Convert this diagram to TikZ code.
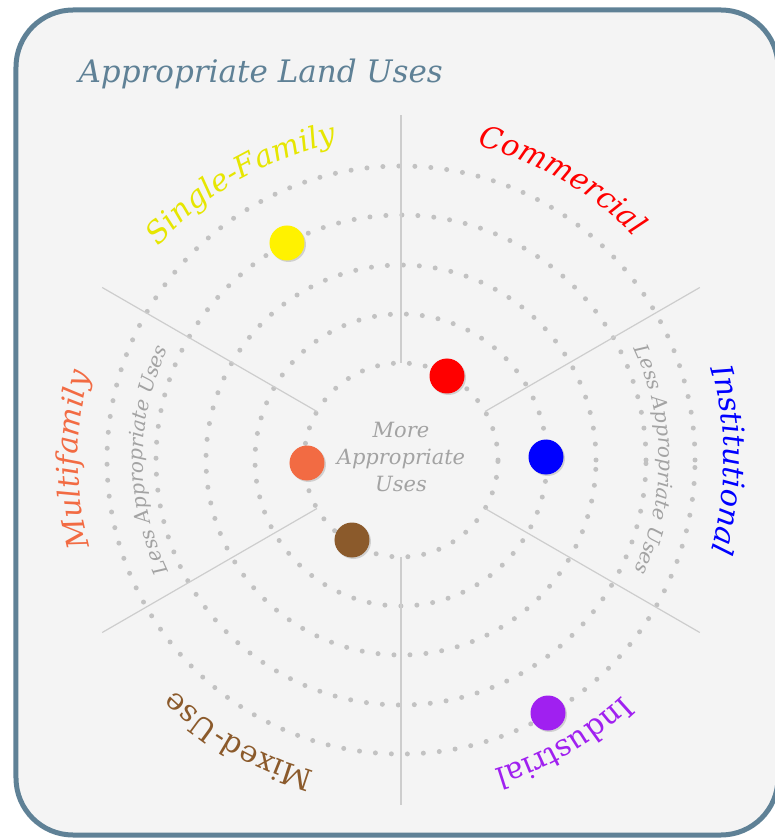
\documentclass[tikz,border=0pt]{standalone}
\usepackage{fontspec}
\setmainfont{DejaVu Serif}
\usetikzlibrary{decorations.text,shadows}

\definecolor{framec}{HTML}{5F8196}
\definecolor{paper}{HTML}{F4F4F4}
\definecolor{dotc}{HTML}{C2C2C2}
\definecolor{rayc}{HTML}{CDCDCD}
\definecolor{softc}{HTML}{A3A3A3}
\definecolor{sfam}{HTML}{E6E600}
\definecolor{mfam}{HTML}{F26B43}
\definecolor{mixc}{HTML}{8B5A2B}
\definecolor{indc}{HTML}{A020F0}

% text set along a clockwise arc: angle, radius, format, text
\newcommand{\arclabel}[4]{%
  \path[decorate, decoration={text along path, text align=center, text={|#3|#4}}]
    (#1+45:#2) arc[start angle=#1+45, end angle=#1-45, radius=#2];
}

\begin{document}
\begin{tikzpicture}[x=1pt,y=1pt,
    ring/.style={dotc, line width=5pt, line cap=round, dash pattern=on 0pt off 16pt},
    ray/.style={rayc, line width=1.2pt},
    usedot/.style={circle, fill=#1, minimum size=35pt, inner sep=0pt,
      drop shadow={shadow xshift=1.5pt, shadow yshift=-1.5pt, opacity=0.3}}]
  \useasboundingbox (-401,-378) rectangle (373,460);
  \draw[framec, line width=5pt, fill=paper, rounded corners=57pt] (-385,-375) rectangle (377,450);

  \node[framec, anchor=base west, font=\itshape\fontsize{31}{36}\selectfont] (title) at (-326,377) {Appropriate Land Uses};

  % rings and sector lines
  \foreach \r in {97,146,195,245,294}
    \draw[ring] (0,0) circle[radius=\r];
  \foreach \a in {30,90,...,330}
    \draw[ray] (\a:97) -- (\a:345);

  \node[softc, font=\itshape\fontsize{21}{27}\selectfont, align=center] (core) at (0,3) {More\\Appropriate\\Uses};

  % land use labels
  \arclabel{60}{323}{\fontsize{30}{36}\selectfont\itshape\color{red}}{Commercial}
  \arclabel{0}{323}{\fontsize{30}{36}\selectfont\itshape\color{blue}}{Institutional}
  \arclabel{-60}{323}{\fontsize{30}{36}\selectfont\color{indc}}{Industrial}
  \arclabel{-120}{323}{\fontsize{30}{36}\selectfont\color{mixc}}{Mixed-Use}
  \arclabel{180}{323}{\fontsize{30}{36}\selectfont\itshape\color{mfam}}{Multifamily}
  \arclabel{120}{323}{\fontsize{30}{36}\selectfont\itshape\color{sfam}}{Single-Family}

  \arclabel{0}{258}{\fontsize{20}{24}\selectfont\itshape\color{softc}}{Less Appropriate Uses}
  \arclabel{180}{258}{\fontsize{20}{24}\selectfont\itshape\color{softc}}{Less Appropriate Uses}

  % ratings
  \node[usedot=yellow] (sf) at (-114,217) {};
  \node[usedot=red] (com) at (46,84) {};
  \node[usedot=blue] (inst) at (145,3) {};
  \node[usedot=mfam] (mf) at (-94,-3) {};
  \node[usedot=mixc] (mix) at (-49,-80) {};
  \node[usedot=indc] (ind) at (147,-253) {};
\end{tikzpicture}
\end{document}
